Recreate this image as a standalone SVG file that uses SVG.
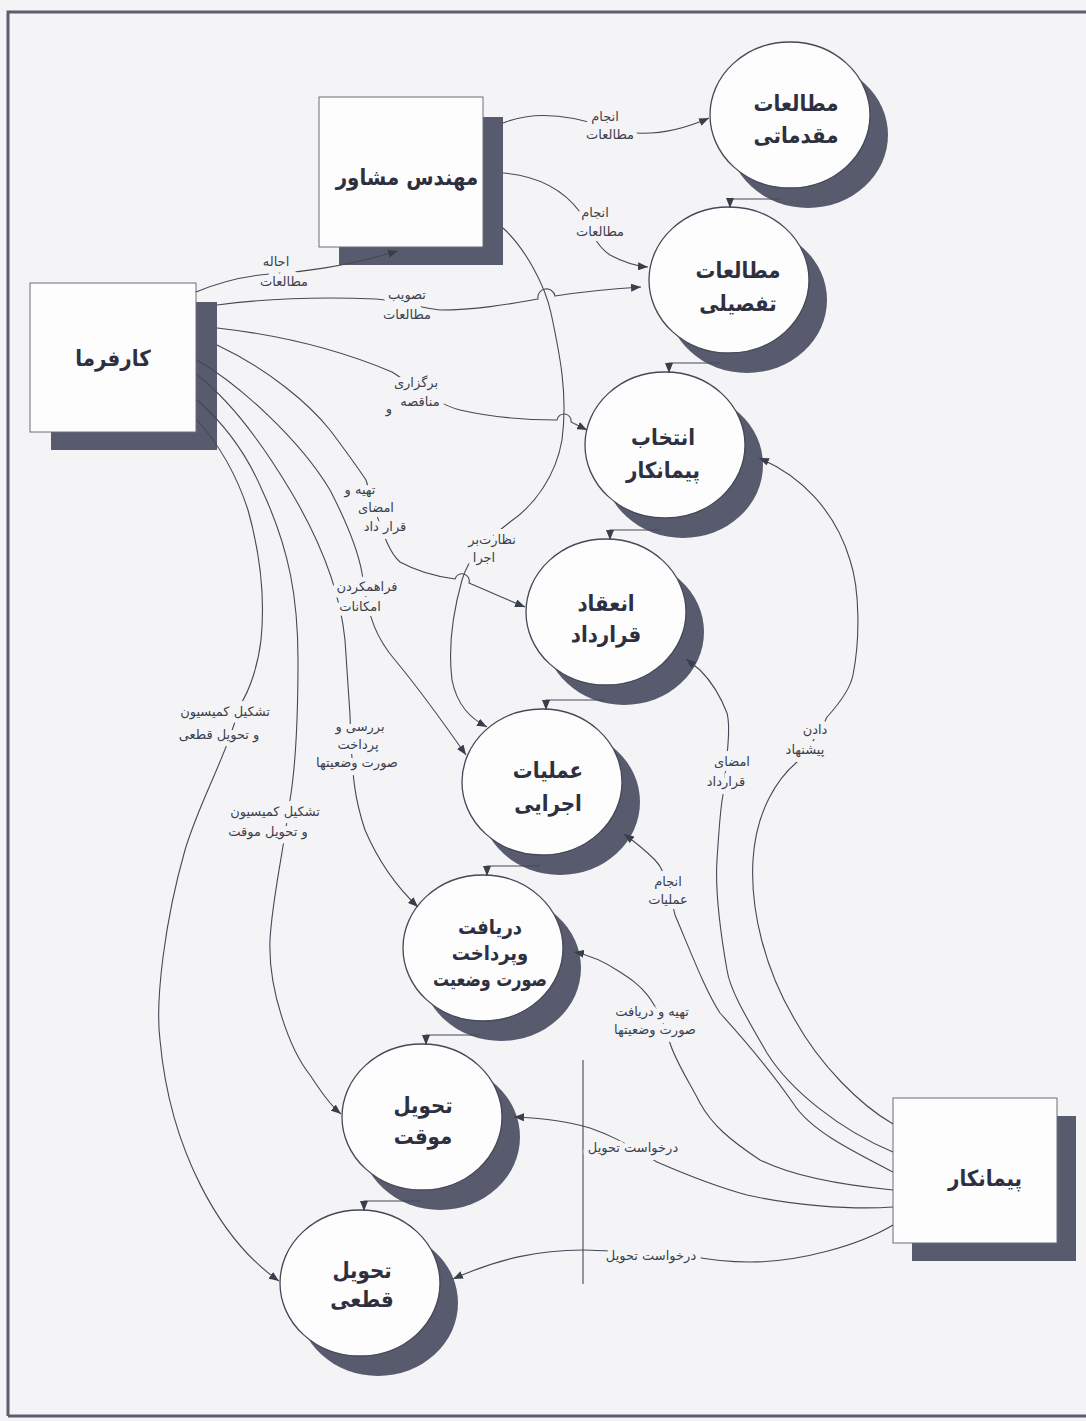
<svg xmlns="http://www.w3.org/2000/svg" width="1086" height="1421" viewBox="0 0 1086 1421">
<defs>
<marker id="ah" viewBox="0 0 10 8" refX="10" refY="4" markerWidth="10" markerHeight="8" markerUnits="userSpaceOnUse" orient="auto"><path d="M0,0 L10,4 L0,8 z" fill="#3a3d4a"/></marker>
<style>
.bg{fill:#f4f4f6}
.frame{fill:none;stroke:#5a5e6e;stroke-width:3}
.sh{fill:#585b6d}
.box{fill:#fdfdfd;stroke:#6a6d7a;stroke-width:1}
.cir{fill:#fdfdfd;stroke:#454857;stroke-width:1.3}
.nt{font-family:'DejaVu Sans Condensed','DejaVu Sans',sans-serif;font-weight:bold;font-size:22px;fill:#2e3040;text-anchor:middle}
.c{fill:none;stroke:#454857;stroke-width:1.1;marker-end:url(#ah)}
.cn{fill:none;stroke:#454857;stroke-width:1.1}
.lbl{font-family:'DejaVu Sans',sans-serif;font-size:13px;fill:#3c3f4c;text-anchor:middle;paint-order:stroke;stroke:#f4f4f6;stroke-width:10px;stroke-linejoin:round}
</style>
</defs>
<rect class="bg" x="0" y="0" width="1086" height="1421"/>
<path class="frame" d="M8,1416 V12 H1090 M8,1416 H1090"/>

<g id="karfarma">
<rect class="sh" x="51" y="302" width="166" height="148"/>
<rect class="box" x="30" y="283" width="166" height="149"/>
<text class="nt" x="113" y="366">کارفرما</text>
</g>
<g id="mohandes">
<rect class="sh" x="339" y="117" width="164" height="148"/>
<rect class="box" x="319" y="97" width="164" height="150"/>
<text class="nt" x="407" y="185">مهندس مشاور</text>
</g>
<g id="peymankar">
<rect class="sh" x="912" y="1116" width="164" height="145"/>
<rect class="box" x="893" y="1098" width="164" height="145"/>
<text class="nt" x="985" y="1186">پیمانکار</text>
</g>

<g id="c1">
<ellipse class="sh" cx="808" cy="135" rx="80" ry="73"/>
<ellipse class="cir" cx="790" cy="115" rx="80" ry="73"/>
<text class="nt" x="796" y="111">مطالعات</text>
<text class="nt" x="796" y="143">مقدماتی</text>
</g>
<g id="c2">
<ellipse class="sh" cx="747" cy="300" rx="80" ry="73"/>
<ellipse class="cir" cx="729" cy="280" rx="80" ry="73"/>
<text class="nt" x="738" y="278">مطالعات</text>
<text class="nt" x="738" y="311">تفصیلی</text>
</g>
<g id="c3">
<ellipse class="sh" cx="683" cy="465" rx="80" ry="73"/>
<ellipse class="cir" cx="665" cy="445" rx="80" ry="73"/>
<text class="nt" x="663" y="445">انتخاب</text>
<text class="nt" x="663" y="478">پیمانکار</text>
</g>
<g id="c4">
<ellipse class="sh" cx="624" cy="632" rx="80" ry="73"/>
<ellipse class="cir" cx="606" cy="612" rx="80" ry="73"/>
<text class="nt" x="606" y="611">انعقاد</text>
<text class="nt" x="606" y="642">قرارداد</text>
</g>
<g id="c5">
<ellipse class="sh" cx="560" cy="802" rx="80" ry="73"/>
<ellipse class="cir" cx="542" cy="782" rx="80" ry="73"/>
<text class="nt" x="548" y="778">عملیات</text>
<text class="nt" x="548" y="811">اجرایی</text>
</g>
<g id="c6">
<ellipse class="sh" cx="501" cy="968" rx="80" ry="73"/>
<ellipse class="cir" cx="483" cy="948" rx="80" ry="73"/>
<text class="nt" x="490" y="934" style="font-size:20px">دریافت</text>
<text class="nt" x="490" y="960" style="font-size:20px">وپرداخت</text>
<text class="nt" x="490" y="986" style="font-size:20px" textLength="114" lengthAdjust="spacingAndGlyphs">صورت وضعیت</text>
</g>
<g id="c7">
<ellipse class="sh" cx="440" cy="1137" rx="80" ry="73"/>
<ellipse class="cir" cx="422" cy="1117" rx="80" ry="73"/>
<text class="nt" x="423" y="1113">تحویل</text>
<text class="nt" x="423" y="1144">موقت</text>
</g>
<g id="c8">
<ellipse class="sh" cx="378" cy="1303" rx="80" ry="73"/>
<ellipse class="cir" cx="360" cy="1283" rx="80" ry="73"/>
<text class="nt" x="362" y="1278">تحویل</text>
<text class="nt" x="362" y="1307">قطعی</text>
</g>

<g id="connectors">
<path class="c" d="M780,199 H730 V208"/>
<path class="c" d="M720,363 H669 V373"/>
<path class="c" d="M660,530 H610 V540"/>
<path class="c" d="M605,700 H546 V710"/>
<path class="c" d="M540,866 H487 V876"/>
<path class="c" d="M480,1035 H426 V1045"/>
<path class="c" d="M420,1201 H364 V1211"/>

<path class="c" d="M503,123 C535,110 570,115 605,127 C640,139 675,133 709,118"/>
<path class="c" d="M503,173 C540,176 565,192 580,212 C590,228 595,245 610,255 C625,263 635,266 648,267"/>
<path class="c" d="M503,228 C525,248 545,285 551,313 C560,355 568,395 562,440 C556,475 535,505 510,522 C480,545 468,560 462,580 C455,605 447,640 452,680 C457,705 470,718 487,727"/>

<path class="c" d="M196,292 C220,282 245,276 270,274 C300,272 340,268 398,251"/>
<path class="c" d="M217,305 C270,298 330,297 376,299 C400,301 420,308 440,310 C480,310 515,303 538,299 A8,8 0 0 1 555,296 C580,292 610,289 641,287"/>
<path class="c" d="M217,328 C280,335 340,350 392,372 C420,390 440,405 460,410 C495,418 530,420 557,420 A7,7 0 0 1 571,422 L587,430"/>
<path class="c" d="M217,345 C270,370 310,405 330,430 C345,450 358,468 366,480 C385,545 392,555 400,562 C420,573 440,577 455,579 A7,7 0 0 1 469,583 C490,592 508,600 525,607"/>
<path class="c" d="M197,360 C240,385 300,440 330,490 C348,525 358,550 362,573 C368,620 378,640 395,660 C420,690 445,725 466,755"/>
<path class="c" d="M197,375 C230,400 260,440 290,490 C320,540 340,590 345,640 C347,670 349,700 350,715 C352,780 355,800 365,830 C380,865 400,890 418,907"/>
<path class="c" d="M197,400 C220,420 245,450 262,490 C290,550 298,600 298,660 C298,720 295,770 290,800 C282,860 272,900 270,940 C268,990 290,1050 310,1075 C320,1090 330,1105 341,1114"/>
<path class="c" d="M197,420 C215,440 235,470 248,510 C262,560 265,600 261,640 C258,665 250,690 240,705 C225,760 200,800 185,850 C165,920 155,1000 160,1040 C170,1150 220,1240 279,1281"/>

<path class="c" d="M893,1124 C860,1105 820,1065 795,1020 C765,970 750,910 753,860 C756,810 778,778 797,762 C815,740 822,728 827,717 C838,705 850,690 853,675 C860,640 860,590 850,560 C835,510 800,475 759,458"/>
<path class="c" d="M893,1152 C840,1130 790,1090 767,1053 C745,1015 730,990 727,970 C720,930 715,890 717,860 C719,830 720,810 723,795 C729,740 730,725 727,713 C720,695 710,680 700,670 L686,659"/>
<path class="c" d="M893,1172 C850,1150 810,1130 793,1103 C770,1070 740,1035 720,1013 C705,990 690,950 675,915 C665,870 660,865 655,860 C645,850 635,842 624,834"/>
<path class="c" d="M893,1190 C840,1185 790,1175 760,1160 C730,1140 712,1125 700,1103 C688,1080 675,1060 670,1043 C655,995 640,985 620,972 C605,962 590,955 574,952"/>
<path class="c" d="M893,1207 C850,1210 790,1205 747,1195 C710,1185 680,1172 657,1162 C620,1140 610,1135 590,1128 C570,1122 545,1118 514,1117"/>
<path class="c" d="M893,1225 C860,1245 800,1262 750,1262 C720,1262 700,1258 690,1256 C630,1252 600,1250 583,1250 C540,1250 500,1258 453,1279"/>
<path class="cn" d="M583,1060 V1284"/>
</g>

<g id="labels">
<text class="lbl" x="605" y="121">انجام</text>
<text class="lbl" x="610" y="139">مطالعات</text>
<text class="lbl" x="595" y="217">انجام</text>
<text class="lbl" x="600" y="236">مطالعات</text>
<text class="lbl" x="276" y="266">احاله</text>
<text class="lbl" x="284" y="286">مطالعات</text>
<text class="lbl" x="407" y="299">تصویب</text>
<text class="lbl" x="407" y="319">مطالعات</text>
<text class="lbl" x="416" y="387">برگزاری</text>
<text class="lbl" x="420" y="406">مناقصه</text>
<text class="lbl" x="389" y="413">و</text>
<text class="lbl" x="360" y="494">تهیه و</text>
<text class="lbl" x="376" y="512">امضای</text>
<text class="lbl" x="385" y="531">قرار داد</text>
<text class="lbl" x="492" y="544">نظارت‌بر</text>
<text class="lbl" x="484" y="562">اجرا</text>
<text class="lbl" x="367" y="591">فراهمکردن</text>
<text class="lbl" x="360" y="611">امکانات</text>
<text class="lbl" x="225" y="716">تشکیل کمیسیون</text>
<text class="lbl" x="219" y="739">و تحویل قطعی</text>
<text class="lbl" x="360" y="731">بررسی و</text>
<text class="lbl" x="358" y="749">پرداخت</text>
<text class="lbl" x="357" y="767">صورت وضعیتها</text>
<text class="lbl" x="275" y="816">تشکیل کمیسیون</text>
<text class="lbl" x="268" y="836">و تحویل موقت</text>
<text class="lbl" x="815" y="734">دادن</text>
<text class="lbl" x="805" y="754">پیشنهاد</text>
<text class="lbl" x="732" y="766">امضای</text>
<text class="lbl" x="726" y="786">قرارداد</text>
<text class="lbl" x="668" y="886">انجام</text>
<text class="lbl" x="668" y="904">عملیات</text>
<text class="lbl" x="652" y="1016">تهیه و دریافت</text>
<text class="lbl" x="655" y="1034">صورت وضعیتها</text>
<text class="lbl" x="633" y="1152">درخواست تحویل</text>
<text class="lbl" x="651" y="1260">درخواست تحویل</text>
</g>
</svg>
